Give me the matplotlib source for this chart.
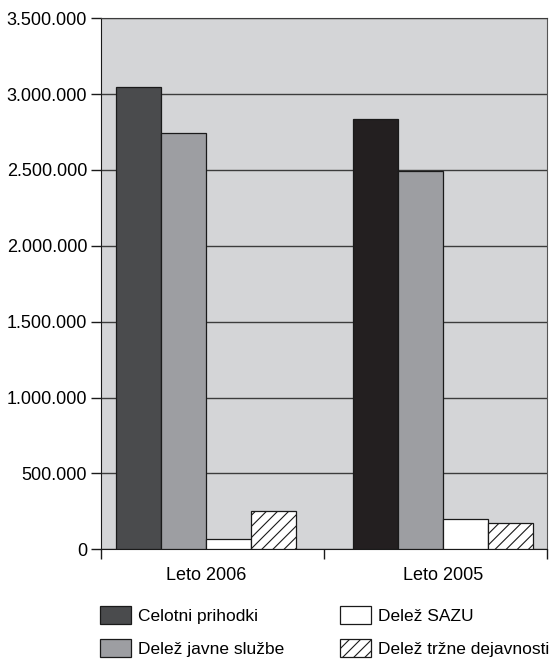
import matplotlib.pyplot as plt
import numpy as np
from matplotlib.patches import Patch
from matplotlib.ticker import FuncFormatter

plt.rcParams["font.family"] = ["Liberation Sans", "DejaVu Sans"]
plt.rcParams["hatch.linewidth"] = 0.8

categories = ["Leto 2006", "Leto 2005"]
series = ["Celotni prihodki", "Delež javne službe", "Delež SAZU", "Delež tržne dejavnosti"]
celotni = [3050000, 2835000]
javne = [2745000, 2492000]
sazu = [70000, 197000]
trzne = [250000, 173000]

values = [celotni, javne, sazu, trzne]
# first series uses a darker shade for the second year, as in the original
colors = [["#4a4b4d", "#231f20"], ["#9d9ea2", "#9d9ea2"], ["white", "white"], ["white", "white"]]
hatches = [None, None, None, "///"]

fig = plt.figure(figsize=(5.52, 6.63), dpi=100)
ax = fig.add_axes([0.183, 0.1715, 0.808, 0.801])
ax.set_facecolor("#d4d5d7")

x = np.arange(len(categories))
w = 0.19
for i, (vals, cols, h) in enumerate(zip(values, colors, hatches)):
    ax.bar(x - 1.5 * w + i * w, vals, w, color=cols, edgecolor="#1a1a1a",
           linewidth=0.9, hatch=h, zorder=3)

x0, x1 = -0.443, 1.439
ax.set_xlim(x0, x1)
ax.set_ylim(0, 3500000)
ax.set_yticks(np.arange(0, 3500001, 500000))
ax.yaxis.set_major_formatter(FuncFormatter(lambda v, p: f"{int(v):,}".replace(",", ".")))
ax.grid(axis="y", color="#3c3c3c", linewidth=1.0, zorder=1)

ax.set_xticks([x0, 0.5, x1])
ax.set_xticklabels([])
ax.set_xticks(x, minor=True)
ax.set_xticklabels(categories, minor=True)
ax.tick_params(axis="x", which="minor", length=0, pad=13, labelsize=13)
ax.tick_params(axis="x", which="major", length=7, width=1, color="#1a1a1a")
ax.tick_params(axis="y", length=7, width=1, color="#1a1a1a", labelsize=13, pad=3)
ax.spines["left"].set_color("#1a1a1a")
ax.spines["bottom"].set_color("#1a1a1a")
ax.spines["top"].set_color("#3c3c3c")
ax.spines["right"].set_color("#555555")

handles = [Patch(facecolor=c[0], edgecolor="#1a1a1a", linewidth=0.9, hatch=h)
           for c, h in zip(colors, hatches)]
fig.legend(handles, series, loc="upper left", bbox_to_anchor=(100 / 552, 1 - 606 / 663),
           ncol=2, frameon=False, fontsize=12.5, handlelength=1.79, handleheight=1.2,
           handletextpad=0.4, columnspacing=3.2, labelspacing=0.9,
           borderpad=0, borderaxespad=0)

fig.savefig("out.png", dpi=100)
